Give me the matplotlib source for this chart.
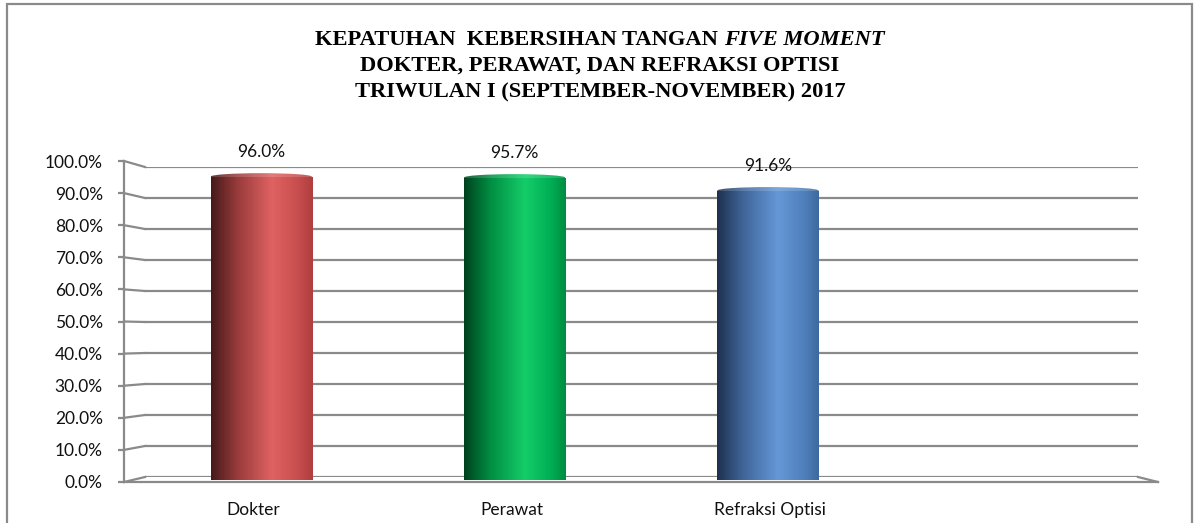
import numpy as np
import matplotlib
matplotlib.use("Agg")
import matplotlib.pyplot as plt
from matplotlib.lines import Line2D
from matplotlib.patches import Rectangle, Ellipse
from matplotlib.transforms import IdentityTransform
from matplotlib.colors import LinearSegmentedColormap

# ---- data ----
categories = ["Dokter", "Perawat", "Refraksi Optisi", ""]
values = [0.960, 0.957, 0.916]
value_labels = ["96.0%", "95.7%", "91.6%"]
yticks = [0.0, 0.1, 0.2, 0.3, 0.4, 0.5, 0.6, 0.7, 0.8, 0.9, 1.0]
ytick_labels = ["0.0%", "10.0%", "20.0%", "30.0%", "40.0%", "50.0%",
                "60.0%", "70.0%", "80.0%", "90.0%", "100.0%"]
title_line1a = "KEPATUHAN  KEBERSIHAN TANGAN "
title_line1b = "FIVE MOMENT"
title_line2 = "DOKTER, PERAWAT, DAN REFRAKSI OPTISI"
title_line3 = "TRIWULAN I (SEPTEMBER-NOVEMBER) 2017"

# gradient stops (position, rgb) per bar
bar_grads = [
    [(0.0, (70, 25, 25)), (0.25, (150, 58, 58)), (0.6, (224, 98, 98)), (0.85, (200, 78, 78)), (1.0, (175, 62, 62))],
    [(0.0, (0, 65, 30)), (0.25, (0, 140, 65)), (0.6, (20, 205, 105)), (0.85, (0, 175, 85)), (1.0, (0, 140, 65))],
    [(0.0, (30, 48, 78)), (0.25, (62, 100, 152)), (0.6, (102, 152, 215)), (0.85, (80, 128, 188)), (1.0, (62, 105, 160))],
]

W, H = 1194, 523
fig = plt.figure(figsize=(W / 100, H / 100), dpi=100)
fig.patch.set_facecolor("white")


def ax_rect(x0, y0, x1, y1):
    # pixel box (top-left origin) -> figure fraction
    return [x0 / W, 1 - y1 / H, (x1 - x0) / W, (y1 - y0) / H]


GRID = "#8a8a8a"
TXT = "#111111"
SANS = ["Lato", "DejaVu Sans"]
SERIF = ["Liberation Serif", "DejaVu Serif"]

# figure border (bottom edge falls outside the picture)
fig.add_artist(Rectangle((6.5 / W, -0.05), (1192 - 6.5) / W, 1.05 - 4.5 / H,
                         transform=fig.transFigure, fill=False,
                         edgecolor="#8a8a8a", lw=1.6, clip_on=False))

# back wall axes (gridlines)
ax_back = fig.add_axes(ax_rect(145, 167, 1138, 477))
ax_back.set_xlim(0, 4)
ax_back.set_ylim(0, 1)
ax_back.set_yticks(yticks)
ax_back.yaxis.grid(True, color=GRID, lw=1.6)
ax_back.tick_params(left=False, bottom=False, labelleft=False, labelbottom=False)
for s in ax_back.spines.values():
    s.set_visible(False)
ax_back.patch.set_alpha(0)

# bar axes (middle plane)
ax_bar = fig.add_axes(ax_rect(134.5, 164, 1148, 480))
ax_bar.set_xlim(-0.5, 3.5)
ax_bar.set_ylim(0, 1)
ax_bar.axis("off")
ax_bar.patch.set_alpha(0)

bw = 0.4
bars = ax_bar.bar(range(len(values)), values, width=bw, color="none", edgecolor="none")
for i, (b, stops) in enumerate(zip(bars, bar_grads)):
    cmap = LinearSegmentedColormap.from_list(
        f"g{i}", [(p, tuple(c / 255 for c in rgb)) for p, rgb in stops])
    x0 = b.get_x()
    h = b.get_height()
    grad = np.linspace(0, 1, 256).reshape(1, -1)
    im = ax_bar.imshow(grad, cmap=cmap, aspect="auto",
                       extent=(x0, x0 + bw, 0, h), zorder=3, interpolation="bilinear")
    im.set_clip_path(b)
    # elliptical top
    eh = 0.022
    top = Ellipse((x0 + bw / 2, h), bw, eh, zorder=4, facecolor="none", edgecolor="none")
    ax_bar.add_patch(top)
    im2 = ax_bar.imshow(grad, cmap=cmap, aspect="auto",
                        extent=(x0, x0 + bw, h - eh / 2, h + eh / 2), zorder=4,
                        interpolation="bilinear", alpha=0.85)
    im2.set_clip_path(top)
    ax_bar.annotate(value_labels[i], (i, h), xytext=(0, 18), textcoords="offset points",
                    ha="center", va="center", fontsize=12.5, family=SANS, color=TXT)
ax_bar.set_xlim(-0.5, 3.5)
ax_bar.set_ylim(0, 1)

# front axes (axis line, ticks, labels)
ax_front = fig.add_axes(ax_rect(124, 161, 1158, 482))
ax_front.set_xlim(-0.5, 3.5)
ax_front.set_ylim(0, 1)
ax_front.patch.set_alpha(0)
ax_front.set_yticks(yticks)
ax_front.set_yticklabels(ytick_labels, family=SANS, fontsize=12.5, color=TXT)
ax_front.set_xticks(range(len(categories)))
ax_front.set_xticklabels(categories, family=SANS, fontsize=12.5, color=TXT)
ax_front.tick_params(axis="y", direction="out", length=4.3, width=1.6, color=GRID, pad=11)
ax_front.tick_params(axis="x", length=0, pad=14.5)
for k in ("top", "right"):
    ax_front.spines[k].set_visible(False)
for k in ("left", "bottom"):
    ax_front.spines[k].set_color(GRID)
    ax_front.spines[k].set_linewidth(1.6)

# perspective connectors
fig.canvas.draw()
for v in yticks:
    p0 = ax_front.transData.transform((-0.5, v))
    p1 = ax_back.transData.transform((0, v))
    fig.add_artist(Line2D([p0[0], p1[0]], [p0[1], p1[1]], transform=IdentityTransform(),
                          color=GRID, lw=1.6))
p0 = ax_front.transData.transform((3.5, 0))
p1 = ax_back.transData.transform((4, 0))
fig.add_artist(Line2D([p0[0], p1[0]], [p0[1], p1[1]], transform=IdentityTransform(),
                      color=GRID, lw=1.6))

# title
tfs = 16.2
cx = 600 / W
r = fig.canvas.get_renderer()
ta = fig.text(0, 1 - 40 / H, title_line1a, family=SERIF, weight="bold", fontsize=tfs,
              ha="left", va="center", color="black")
tb = fig.text(0, 1 - 40 / H, title_line1b, family=SERIF, weight="bold", style="italic",
              fontsize=tfs, ha="left", va="center", color="black")
wa = ta.get_window_extent(r).width
wb = tb.get_window_extent(r).width
start = 600 - (wa + wb) / 2
ta.set_x(start / W)
tb.set_x((start + wa) / W)
fig.text(cx, 1 - 66 / H, title_line2, family=SERIF, weight="bold", fontsize=tfs,
         ha="center", va="center", color="black")
fig.text(cx, 1 - 92 / H, title_line3, family=SERIF, weight="bold", fontsize=tfs,
         ha="center", va="center", color="black")

fig.savefig("out.png", dpi=100, facecolor="white")
